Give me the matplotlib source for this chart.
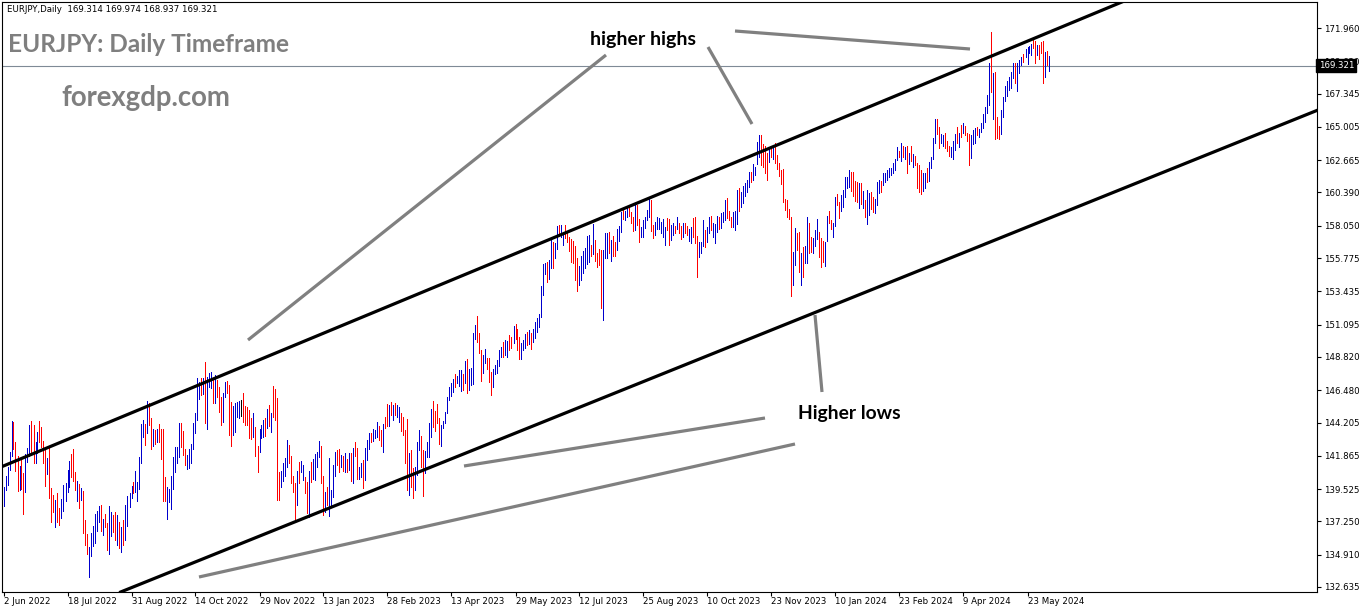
import matplotlib
matplotlib.use("Agg")
import matplotlib.pyplot as plt
from matplotlib.lines import Line2D
from matplotlib.transforms import blended_transform_factory

# ---------------- data ----------------
highs = [
    139.67,140.45,141.08,142.13,144.31,144.24,142.84,141.85,141.15,141.57,
    140.66,141.99,142.41,144.03,144.31,144.03,142.84,143.54,144.31,143.89,
    142.91,142.48,141.71,142.41,139.60,139.11,138.75,139.25,138.19,138.82,
    139.81,139.95,140.87,141.50,141.99,142.34,140.73,140.09,139.88,139.60,
    139.39,137.35,136.36,135.45,136.43,136.92,137.77,137.98,138.33,138.40,
    137.42,137.77,137.14,138.33,137.91,137.70,137.91,137.70,137.21,136.85,
    137.35,138.40,139.04,139.25,139.74,140.02,140.80,140.02,141.78,144.10,
    144.38,144.10,145.72,145.58,144.52,143.75,143.68,143.75,144.10,143.75,
    143.75,140.38,139.67,139.53,140.45,141.78,142.48,142.48,144.17,144.17,
    143.61,142.34,141.92,142.34,142.70,144.17,144.87,147.34,147.06,147.34,
    147.34,148.46,147.41,147.69,147.76,147.27,147.55,147.20,146.71,146.00,
    146.28,147.06,147.13,146.85,145.65,145.37,145.58,145.65,145.72,145.79,
    146.28,145.37,145.30,145.09,144.52,144.87,143.89,142.55,143.75,144.03,
    144.38,144.52,145.16,145.44,144.87,146.77,146.56,145.93,140.73,140.80,
    141.36,141.71,142.98,142.62,141.85,140.45,139.95,140.80,141.43,141.50,
    141.22,140.38,140.02,140.80,141.43,141.64,141.99,142.13,142.91,142.55,
    140.45,139.32,139.67,141.71,139.46,141.22,142.13,142.27,142.34,141.92,
    141.85,142.06,141.64,142.06,142.06,142.41,142.84,142.41,141.08,141.36,
    141.57,142.41,142.98,143.47,143.47,143.75,143.68,144.24,143.96,143.68,
    144.10,144.59,145.51,145.44,145.65,145.44,145.58,145.44,145.30,144.87,
    144.59,143.68,144.45,142.06,142.27,141.01,141.08,142.84,143.68,143.26,
    142.27,142.20,142.84,144.17,145.16,145.72,145.02,145.51,144.52,144.03,
    144.31,144.95,146.00,146.71,146.99,147.27,147.62,147.48,147.90,147.90,
    147.62,148.53,148.67,147.97,148.04,150.50,151.07,151.70,150.50,149.31,
    148.96,149.38,148.74,148.74,147.76,147.97,148.25,148.60,149.31,149.52,
    149.87,150.01,149.94,150.36,150.22,150.99,151.14,150.78,150.22,149.80,
    150.01,150.43,150.57,150.71,150.50,150.78,151.28,151.56,151.84,153.81,
    155.36,155.43,155.50,155.64,157.05,156.91,156.84,158.03,158.10,158.10,
    157.61,158.10,157.68,157.26,157.12,156.98,156.63,155.78,155.22,155.92,
    156.27,156.48,157.33,157.40,156.70,158.17,157.05,156.13,156.41,156.34,
    156.34,157.54,157.54,157.61,157.05,157.33,156.91,157.82,158.03,159.02,
    159.30,159.09,159.30,159.37,159.02,158.66,159.51,159.51,158.52,157.96,
    158.45,158.66,159.16,159.93,159.86,158.10,158.31,158.66,158.59,158.31,
    158.52,157.96,158.59,158.52,158.10,158.24,158.03,158.66,158.24,158.03,
    158.24,158.24,158.03,157.82,157.96,158.59,158.66,157.33,156.91,156.91,
    158.45,157.75,157.96,158.66,158.73,158.24,158.17,158.73,158.66,158.95,
    159.02,159.86,160.00,159.09,158.66,159.02,159.09,160.56,160.70,160.42,
    160.84,161.06,161.27,161.83,161.83,162.39,162.18,163.94,164.43,164.43,
    163.80,163.66,163.17,163.45,163.66,163.73,163.87,163.03,162.46,161.97,
    162.04,159.93,159.86,159.23,158.66,156.20,157.89,157.54,157.61,156.13,
    156.55,156.63,158.66,158.24,157.26,157.19,157.75,158.52,157.61,157.19,
    156.98,156.91,158.73,159.09,158.45,158.24,160.07,160.28,159.72,160.21,
    160.56,161.48,161.48,161.97,161.83,161.83,161.20,161.13,161.06,161.06,
    160.49,159.86,160.56,160.35,160.42,160.07,159.93,161.13,161.27,161.20,
    161.76,161.76,161.97,162.11,162.11,162.46,162.74,163.59,163.31,163.87,
    163.66,163.59,163.66,163.17,163.66,163.10,162.95,162.46,162.32,161.97,
    161.76,161.76,162.11,162.53,162.88,164.22,165.56,165.56,165.00,164.50,
    164.43,164.57,164.01,163.66,163.59,164.01,164.50,165.00,164.57,165.14,
    165.28,165.07,164.57,164.50,164.43,164.79,164.93,165.00,164.86,165.28,
    165.91,166.40,167.25,169.50,171.68,168.79,168.86,165.70,165.07,166.19,
    167.11,167.88,168.23,168.51,168.86,169.50,169.50,169.50,169.71,169.92,
    170.13,170.48,170.62,170.69,170.83,171.26,171.05,170.76,170.76,170.97,
    171.05,170.27,170.34,169.974,
]

lows = [
    138.33,139.46,139.81,140.87,141.85,142.35,140.80,139.39,139.46,139.53,
    137.77,139.32,141.43,141.85,141.99,141.36,141.36,142.06,142.84,142.48,
    141.36,139.74,140.59,138.89,137.21,137.91,136.85,137.21,137.00,137.49,
    137.98,138.68,139.32,139.67,140.38,140.09,139.46,138.68,138.19,138.75,
    136.43,135.59,134.95,133.34,134.81,135.52,135.73,136.57,137.21,136.57,
    136.29,136.85,135.24,134.95,136.22,136.50,135.94,135.59,135.38,135.10,
    135.59,135.94,136.92,138.26,138.89,139.25,139.32,138.68,139.53,141.36,
    143.19,142.62,143.47,144.03,142.34,142.55,142.70,142.84,142.84,141.64,
    138.68,138.68,137.42,138.61,138.12,139.53,140.73,141.36,141.78,142.48,
    141.92,141.22,140.94,141.01,141.36,142.34,143.47,144.38,145.86,146.14,
    146.21,144.17,143.75,146.71,146.63,145.58,145.58,146.00,144.95,144.03,
    144.24,146.00,146.28,143.33,142.55,143.33,143.54,144.59,144.52,144.66,
    144.24,144.03,144.03,143.12,143.05,143.19,141.85,140.73,142.13,143.12,
    143.19,143.26,143.82,143.96,143.54,144.59,144.38,138.75,138.75,139.67,
    140.09,140.45,141.08,141.36,139.95,139.32,137.42,138.40,139.95,140.73,
    140.16,139.25,137.84,137.56,140.02,140.23,140.16,141.08,141.78,139.95,
    137.70,137.91,138.40,137.63,138.33,138.96,140.45,141.22,140.73,141.08,
    140.80,140.73,140.73,140.87,140.09,139.95,141.85,140.23,140.23,140.38,
    139.60,140.16,141.57,142.34,142.84,142.91,143.12,143.19,142.98,142.55,
    142.13,143.82,143.96,143.96,144.73,144.38,144.73,144.59,144.24,143.61,
    143.33,141.36,139.46,139.11,139.67,138.89,139.46,140.52,142.27,141.08,
    139.04,140.66,141.78,141.78,143.19,143.89,143.61,144.17,142.70,142.55,
    143.82,144.17,144.87,145.79,146.07,146.35,146.71,146.99,146.78,146.42,
    146.49,146.99,146.28,146.49,146.85,146.92,150.08,149.87,149.10,147.13,
    147.69,148.39,147.97,147.06,146.14,146.71,147.62,147.69,148.18,148.81,
    148.81,148.96,148.81,149.31,149.45,149.80,150.08,149.31,148.67,148.67,
    149.31,149.45,149.66,149.73,149.38,149.87,150.15,150.57,150.92,151.63,
    153.18,154.65,154.09,154.30,155.08,155.08,155.78,156.41,157.40,157.26,
    156.70,157.19,156.91,156.27,155.50,155.43,154.23,153.46,153.88,154.23,
    154.72,155.08,155.36,155.50,155.92,156.06,155.57,155.15,155.29,152.26,
    151.42,155.78,155.78,156.13,155.57,155.92,155.92,156.34,156.98,157.61,
    158.52,158.45,158.66,158.73,158.24,157.68,157.75,158.10,156.91,157.26,
    157.26,157.89,158.45,158.66,157.68,157.19,157.40,157.82,157.82,157.54,
    157.26,156.70,157.75,156.70,157.05,157.40,157.54,157.82,157.54,157.12,
    157.26,157.54,157.40,156.98,156.84,157.26,156.84,154.44,155.85,156.13,
    156.63,156.56,156.91,157.54,157.75,157.26,156.84,157.61,157.82,157.89,
    158.31,158.45,158.59,158.45,157.96,157.96,157.75,158.17,159.09,159.37,
    159.65,160.14,160.42,160.77,161.13,161.27,161.62,162.39,162.88,162.32,
    162.18,161.76,161.27,162.53,162.88,162.74,162.46,162.04,161.55,160.99,
    159.72,159.16,158.66,158.52,153.11,153.88,155.29,156.34,154.79,153.88,
    154.44,155.43,155.43,156.13,156.20,156.13,156.63,157.12,155.85,155.15,
    155.50,155.22,156.98,158.24,157.82,157.26,158.03,159.51,158.59,159.09,
    159.37,160.07,160.70,160.77,160.49,160.14,159.79,159.72,159.30,159.58,
    159.30,158.66,158.17,158.80,159.23,159.02,158.95,159.51,160.35,160.42,
    160.91,161.13,161.27,161.48,161.62,161.76,161.97,162.67,162.88,162.60,
    162.88,162.74,161.76,162.39,162.60,162.18,162.32,160.70,160.42,160.28,
    160.49,160.70,161.13,161.20,162.11,162.74,163.87,164.50,163.52,163.87,
    163.66,163.52,163.31,162.95,162.88,162.74,163.38,163.87,163.59,164.29,
    164.57,164.43,164.01,162.32,162.81,163.80,163.87,164.43,164.29,164.64,
    164.93,165.35,165.98,166.54,167.46,165.56,164.15,164.22,164.15,164.50,
    165.70,166.83,167.18,167.60,167.74,168.44,168.09,167.53,168.79,169.36,
    169.57,169.92,169.43,170.20,170.06,170.55,169.50,170.06,169.78,170.20,
    168.09,168.51,169.36,168.937,
]

# bar direction: u = close above open (blue), d = close below open (red), n = doji
dirs = "".join([
    "uuuuudddud", "duuudduudd", "dduddduddu", "uuuudddudu", "ddduuuuuud",
    "udduuddudu", "duuuuduuuu", "ududdududd", "dduuuuuuud", "dduuuuuuud",
    "uduuududdd", "uuddduuuun", "dddddudduu", "udududdddu", "uuuddddudu",
    "udduduuuud", "duduuuuddu", "dudududduu", "duuuduuudd", "uddududuud",
    "dddudduuud", "duuuuddddu", "uuuuuuduuu", "duduuuuddd", "uuddduuuuu",
    "duuddudddu", "uududuuuuu", "uuduuduudu", "uddddddduu", "uuuududddd",
    "uuududduuu", "duuddduddu", "uuuudduuuu", "uudduududd", "udduuddduu",
    "uduuduuudu", "uuddduuudu", "uuuuduuuud", "dddududddd", "ddddduuddu",
    "duudduuudd", "duudduuddu", "uuuuddddud", "uduudduuud", "uuuuuuuudu",
    "dudududddd", "uuduuuuddu", "uddduuudud", "uddduuuduu", "uuuududddu",
    "uuuuuuduuu", "duuuuddudd", "dudu",
])

last_ohlc = [169.314, 169.974, 168.937, 169.321]
symbol_header = "EURJPY,Daily"

date_labels = ["2 Jun 2022", "18 Jul 2022", "31 Aug 2022", "14 Oct 2022",
               "29 Nov 2022", "13 Jan 2023", "28 Feb 2023", "13 Apr 2023",
               "29 May 2023", "12 Jul 2023", "25 Aug 2023", "10 Oct 2023",
               "23 Nov 2023", "10 Jan 2024", "23 Feb 2024", "9 Apr 2024",
               "23 May 2024"]
date_label_bars = [0, 32, 64, 96, 128, 160, 192, 224, 256, 288, 320, 352,
                   384, 416, 448, 480, 512]

price_ticks = [171.960, 169.630, 167.345, 165.005, 162.665, 160.390, 158.050,
               155.775, 153.435, 151.095, 148.820, 146.480, 144.205, 141.865,
               139.525, 137.250, 134.910, 132.635]

# trend channel anchors (bar index, price)
channel_upper = [(0, 141.15), (558, 173.72)]
channel_lower = [(61, 132.42), (656, 166.12)]

# ---------------- figure ----------------
W, H = 1362, 611
fig = plt.figure(figsize=(W / 100, H / 100), dpi=100)
fig.patch.set_facecolor("white")

ax_left, ax_right, ax_top, ax_bottom = 2, 1317, 2, 592
ax = fig.add_axes([ax_left / W, 1 - ax_bottom / H,
                   (ax_right - ax_left) / W, (ax_bottom - ax_top) / H])
ax.set_facecolor("white")

n = min(len(highs), len(lows), len(dirs))
idx = list(range(n))
col_map = {"u": "#0000CD", "d": "#FF0000", "n": "#000000"}
colors = [col_map[c] for c in dirs[:n]]
ax.vlines(idx, lows[:n], highs[:n], colors=colors, linewidth=0.72,
          antialiased=False, zorder=3)

# channel lines
ax.axline(channel_upper[0], channel_upper[1], color="black", lw=2.3, zorder=4)
ax.axline(channel_lower[0], channel_lower[1], color="black", lw=2.3, zorder=4)

# current price line
ax.axhline(last_ohlc[3], color="#7f8a96", lw=0.8, zorder=2)

ax.set_xlim(-0.75, -0.75 + (ax_right - ax_left) / 2)
ax.set_ylim(171.960 - 564 * 0.070349, 171.960 + 26 * 0.070349)

# axes styling
for s in ax.spines.values():
    s.set_color("black")
    s.set_linewidth(0.8)

ax.yaxis.tick_right()
ax.set_yticks(price_ticks)
ax.set_yticklabels([f"{v:.3f}" for v in price_ticks])
ax.tick_params(axis="y", direction="out", length=3, width=0.8, pad=2,
               labelsize=6.2, colors="black")
ax.set_xticks(date_label_bars)
ax.set_xticklabels(date_labels, ha="left")
ax.tick_params(axis="x", direction="out", length=3, width=0.8, pad=0.5,
               labelsize=6.2, colors="black")

# price label box on the right axis
tr = blended_transform_factory(ax.transAxes, ax.transData)
ax.text(1.0012, last_ohlc[3], f"{last_ohlc[3]:.3f}", transform=tr,
        ha="left", va="center", fontsize=6.2, color="white", zorder=10,
        bbox=dict(boxstyle="square,pad=0.25", facecolor="black",
                  edgecolor="black"), clip_on=False)

# ---------------- annotations (figure pixel positions) ----------------
def fx(x):
    return x / W

def fy(y):
    return 1 - y / H

fig.text(fx(7), fy(9), symbol_header + "  " + " ".join(f"{v:.3f}" for v in last_ohlc),
         fontsize=6.2, color="black", ha="left", va="center")
fig.text(fx(8), fy(45), "EURJPY: Daily Timeframe", fontsize=17.6,
         fontweight="bold", family="Lato", color="#7f7f7f",
         ha="left", va="center")
fig.text(fx(61), fy(98), "forexgdp.com", fontsize=19.8,
         fontweight="bold", family="Lato", color="#7f7f7f",
         ha="left", va="center")
fig.text(fx(590), fy(39), "higher highs", fontsize=14,
         fontweight="bold", family="Lato", color="black",
         ha="left", va="center")
fig.text(fx(798), fy(414), "Higher lows", fontsize=13.9,
         fontweight="bold", family="Lato", color="black",
         ha="left", va="center")

gray_lines = [
    ((248, 340), (606, 55)),
    ((708, 47), (752, 124)),
    ((735, 31), (970, 49)),
    ((822, 392), (815, 315)),
    ((464, 466), (765, 418)),
    ((199, 577), (795, 444)),
]
for (x1, y1), (x2, y2) in gray_lines:
    fig.add_artist(Line2D([fx(x1), fx(x2)], [fy(y1), fy(y2)],
                          transform=fig.transFigure, color="#808080",
                          lw=2.3, solid_capstyle="butt"))

fig.savefig("out.png", dpi=100, facecolor="white")
